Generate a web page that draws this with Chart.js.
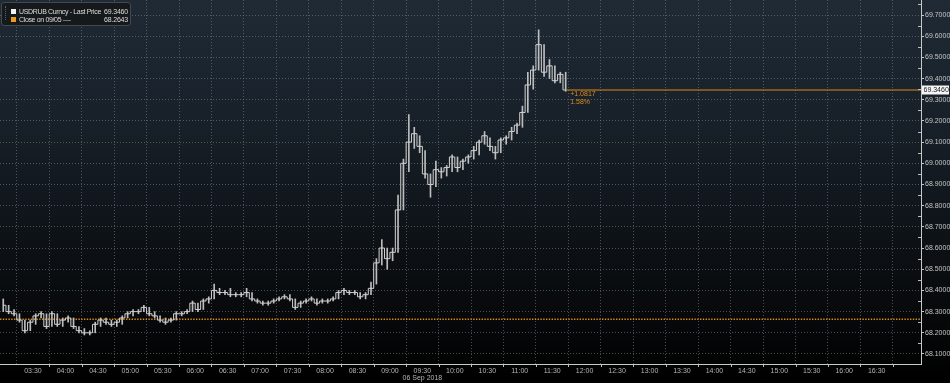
<!DOCTYPE html>
<html>
<head>
<meta charset="utf-8">
<script src="https://cdn.jsdelivr.net/npm/chart.js@4.4.1/dist/chart.umd.min.js"></script>
<style>
html,body{margin:0;padding:0;width:950px;height:383px;overflow:hidden;}
body{background:linear-gradient(to bottom,#1f2a35 0%,#18212a 30%,#0e1318 60%,#050607 88%,#000 100%);font-family:"Liberation Sans",Arial,sans-serif;}
#wrap{position:relative;width:950px;height:383px;}
#c{position:absolute;left:0;top:0;}
#legend{position:absolute;left:1px;top:2px;width:128px;height:22px;background:rgba(22,24,27,0.95);border:1px solid #44494f;border-radius:3px;font-size:7px;line-height:7px;color:#dcdcdc;}
.row{position:absolute;left:0;width:128px;height:8px;}
.sq{position:absolute;left:9px;top:0;width:5px;height:5px;}
.nm{position:absolute;left:17px;top:-1px;white-space:nowrap;letter-spacing:-0.35px;}
.val{position:absolute;right:2px;top:-1px;white-space:nowrap;letter-spacing:-0.2px;}
.grip{position:absolute;left:3px;top:3px;width:1px;height:14px;border-left:1px dotted #5a6068;}
</style>
</head>
<body>
<div id="wrap">
<canvas id="c" width="950" height="383"></canvas>
<div id="legend">
  <div class="grip"></div>
  <div class="row" style="top:6px"><div class="sq" style="background:#f2f2f2"></div><div class="nm">USDRUB Curncy - Last Price</div><div class="val" id="v1"></div></div>
  <div class="row" style="top:14px"><div class="sq" style="background:#ee9a1c"></div><div class="nm">Close on 09/05 ----</div><div class="val" id="v2"></div></div>
</div>
</div>
<script>
// ---- data (5-minute bars, 06 Sep 2018) ----
const barTimes = ['03:00','03:05','03:10','03:15','03:20','03:25','03:30','03:35','03:40','03:45','03:50','03:55',
'04:00','04:05','04:10','04:15','04:20','04:25','04:30','04:35','04:40','04:45','04:50','04:55',
'05:00','05:05','05:10','05:15','05:20','05:25','05:30','05:35','05:40','05:45','05:50','05:55',
'06:00','06:05','06:10','06:15','06:20','06:25','06:30','06:35','06:40','06:45','06:50','06:55',
'07:00','07:05','07:10','07:15','07:20','07:25','07:30','07:35','07:40','07:45','07:50','07:55',
'08:00','08:05','08:10','08:15','08:20','08:25','08:30','08:35','08:40','08:45','08:50','08:55',
'09:00','09:05','09:10','09:15','09:20','09:25','09:30','09:35','09:40','09:45','09:50','09:55',
'10:00','10:05','10:10','10:15','10:20','10:25','10:30','10:35','10:40','10:45','10:50','10:55',
'11:00','11:05','11:10','11:15','11:20','11:25','11:30','11:35','11:40'];

const closes = [68.33,68.30,68.29,68.26,68.21,68.25,68.28,68.29,68.23,68.29,68.24,68.26,
68.27,68.23,68.21,68.20,68.20,68.24,68.26,68.25,68.24,68.25,68.27,68.29,
68.30,68.30,68.32,68.29,68.28,68.26,68.25,68.26,68.29,68.29,68.30,68.34,
68.31,68.35,68.36,68.40,68.39,68.39,68.38,68.38,68.38,68.39,68.36,68.35,
68.34,68.34,68.35,68.36,68.37,68.36,68.32,68.34,68.35,68.36,68.34,68.35,
68.35,68.36,68.39,68.40,68.39,68.39,68.37,68.38,68.41,68.53,68.60,68.55,
68.58,68.78,69.00,69.10,69.14,69.08,68.95,68.90,68.97,68.96,68.98,69.03,
68.98,69.01,69.03,69.06,69.10,69.13,69.08,69.05,69.11,69.12,69.15,69.18,
69.24,69.37,69.44,69.56,69.43,69.46,69.39,69.42,69.346];

const highs = [68.36,68.33,68.31,68.29,68.26,68.26,68.29,68.30,68.29,68.30,68.29,68.27,
68.28,68.27,68.23,68.22,68.21,68.25,68.27,68.27,68.26,68.26,68.28,68.30,
68.31,68.31,68.33,68.32,68.30,68.28,68.27,68.27,68.30,68.30,68.31,68.35,
68.34,68.36,68.37,68.43,68.41,68.40,68.41,68.39,68.39,68.41,68.39,68.36,
68.35,68.35,68.36,68.37,68.38,68.38,68.36,68.35,68.36,68.37,68.36,68.36,
68.36,68.37,68.40,68.41,68.40,68.40,68.39,68.39,68.44,68.55,68.64,68.60,
68.60,68.85,69.02,69.23,69.17,69.13,69.06,68.95,69.01,68.98,68.99,69.04,
69.03,69.02,69.04,69.08,69.11,69.15,69.12,69.08,69.12,69.13,69.17,69.19,
69.27,69.43,69.46,69.63,69.56,69.49,69.46,69.43,69.43];

const lows = [68.30,68.29,68.28,68.25,68.20,68.21,68.24,68.27,68.22,68.23,68.23,68.23,
68.25,68.22,68.20,68.19,68.19,68.20,68.23,68.24,68.23,68.23,68.24,68.27,
68.28,68.29,68.30,68.28,68.27,68.25,68.24,68.25,68.26,68.28,68.29,68.30,
68.30,68.31,68.34,68.36,68.38,68.38,68.37,68.37,68.37,68.37,68.35,68.34,
68.33,68.33,68.34,68.35,68.36,68.35,68.31,68.32,68.34,68.35,68.33,68.34,
68.34,68.35,68.36,68.38,68.38,68.38,68.36,68.36,68.38,68.43,68.52,68.50,
68.54,68.58,68.78,68.96,69.07,69.05,68.93,68.84,68.89,68.93,68.94,68.96,
68.96,68.97,69.00,69.02,69.04,69.09,69.06,69.02,69.05,69.09,69.11,69.14,
69.17,69.24,69.35,69.44,69.41,69.40,69.38,69.38,69.34];

const prevClose = 68.2643;        // Close on 09/05
const dateLabel = '06 Sep 2018';
const dateLabelAt = '09:30';
const xTickLabels = ['03:30','04:00','04:30','05:00','05:30','06:00','06:30','07:00','07:30','08:00','08:30',
'09:00','09:30','10:00','10:30','11:00','11:30','12:00','12:30','13:00','13:30','14:00','14:30','15:00','15:30','16:00','16:30'];
const yTickValues = [68.1,68.2,68.3,68.4,68.5,68.6,68.7,68.8,68.9,69.0,69.1,69.2,69.3,69.4,69.5,69.6,69.7];

// ---- helpers / view settings ----
const toMin = s => { const p = s.split(':'); return (+p[0])*60 + (+p[1]); };
const BAR_MIN = 5;
const X_MIN = 179.5, X_MAX = 1031;
const Y_MIN = 68.0528, Y_MAX = 69.7708;
const ORANGE = '#dc8a1c';
const GRID = 'rgba(125,135,145,0.55)';
const LINE = '#d2d2d2';
const TXT = '#b4b4b4';
const FONT = '"Liberation Sans", Arial, sans-serif';
Chart.defaults.font.family = FONT;

const lastClose = closes[closes.length - 1];
const mid = barTimes.map(t => toMin(t) + BAR_MIN / 2);
const lastT = mid[mid.length - 1];

document.getElementById('v1').textContent = lastClose.toFixed(4);
document.getElementById('v2').textContent = prevClose.toFixed(4);

const extras = {
  id: 'extras',
  afterDraw(chart) {
    const {ctx, scales:{x, y}, chartArea:a} = chart;
    ctx.save();
    // minor ticks
    ctx.strokeStyle = '#bdbdbd'; ctx.lineWidth = 1;
    ctx.beginPath();
    xTickLabels.forEach(l => {
      const px = Math.round(x.getPixelForValue(toMin(l) + 15)) + 0.5;
      if (px < a.right - 2) { ctx.moveTo(px, a.bottom + 1); ctx.lineTo(px, a.bottom + 3); }
    });
    yTickValues.forEach(v => {
      const py = Math.round(y.getPixelForValue(v + 0.05)) + 0.5;
      if (py > a.top + 1) { ctx.moveTo(a.right - 3, py); ctx.lineTo(a.right, py); }
    });
    ctx.stroke();
    // date label under the axis
    ctx.fillStyle = TXT;
    ctx.font = '7px ' + FONT;
    ctx.textAlign = 'center';
    ctx.textBaseline = 'middle';
    ctx.fillText(dateLabel, x.getPixelForValue(toMin(dateLabelAt)), 378);
    // last price tag on axis
    const ly = y.getPixelForValue(lastClose);
    ctx.fillStyle = '#f4f4f4';
    ctx.fillRect(a.right + 1, ly - 4.5, 27, 9);
    ctx.fillStyle = '#1a1a1a';
    ctx.textAlign = 'left';
    ctx.fillText(lastClose.toFixed(4), a.right + 2.5, ly + 0.5);
    // change annotation
    const chg = lastClose - prevClose;
    const pct = chg / prevClose * 100;
    const lx = x.getPixelForValue(lastT) + 4.5;
    ctx.fillStyle = ORANGE;
    ctx.fillText((chg >= 0 ? '+' : '') + chg.toFixed(4), lx, ly + 4.5);
    ctx.fillText(pct.toFixed(2) + '%', lx, ly + 12);
    ctx.restore();
  }
};

new Chart(document.getElementById('c'), {
  type: 'bar',
  data: {
    datasets: [
      { type:'line', data:[{x:X_MIN, y:prevClose},{x:X_MAX, y:prevClose}], borderColor:ORANGE, borderWidth:1.6, borderDash:[1.4,1.4], pointRadius:0, order:4 },
      { type:'bar', data: mid.map((t,i) => ({x:t, y:[lows[i], highs[i]]})), backgroundColor:'#bdbdbd', borderWidth:0, barThickness:1, order:3 },
      { type:'line', data: mid.map((t,i) => ({x:t, y:closes[i]})), stepped:'middle', borderColor:LINE, borderWidth:1, pointRadius:0, order:2 },
      { type:'line', data:[{x:lastT, y:lastClose},{x:X_MAX, y:lastClose}], borderColor:ORANGE, borderWidth:1, pointRadius:0, order:1 }
    ]
  },
  options: {
    responsive:false, animation:false, devicePixelRatio:1,
    layout:{padding:0},
    plugins:{legend:{display:false}, tooltip:{enabled:false}},
    scales:{
      x:{
        type:'linear', min:X_MIN, max:X_MAX, offset:false,
        afterBuildTicks: s => { s.ticks = xTickLabels.map(l => ({value: toMin(l)})); },
        ticks:{ autoSkip:false, maxRotation:0, color:TXT, font:{size:7}, padding:3, callback:(v,i) => xTickLabels[i] },
        grid:{ color:GRID, drawTicks:false, lineWidth:1 },
        border:{ display:true, color:'#c8c8c8', width:1, dash:[1,2] },
        afterFit: s => { s.height = 19; s.paddingLeft = 0; s.paddingRight = 0; }
      },
      y:{
        type:'linear', position:'right', min:Y_MIN, max:Y_MAX,
        afterBuildTicks: s => { s.ticks = yTickValues.map(v => ({value:v})); },
        ticks:{ autoSkip:false, color:'#c4c4c4', font:{size:7}, padding:1, callback: v => Number(v).toFixed(4) },
        grid:{ color:GRID, drawTicks:true, tickLength:3, tickColor:'#c8c8c8', tickBorderDash:[] },
        border:{ display:true, color:'#c8c8c8', width:1, dash:[1,2] },
        afterFit: s => { s.width = 29; s.paddingTop = 0; s.paddingBottom = 0; }
      }
    }
  },
  plugins:[extras]
});
</script>
</body>
</html>
